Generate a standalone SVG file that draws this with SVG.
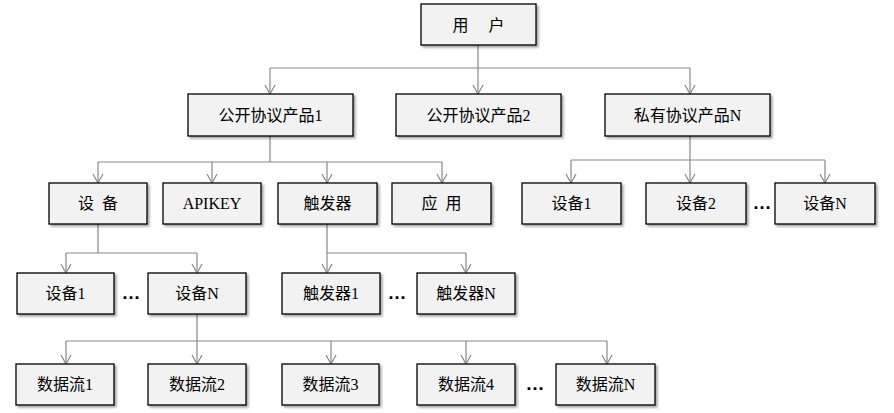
<svg xmlns="http://www.w3.org/2000/svg" width="894" height="413" viewBox="0 0 894 413">
<style>
.box{fill:#f2f2f2;stroke:#000;stroke-width:1.3;filter:url(#sh)}
.t{font-family:"Liberation Serif","Noto Sans CJK SC",serif;font-size:16px;fill:#000;text-anchor:middle;white-space:pre}
.c{fill:none;stroke:#888;stroke-width:1.2}
.a{marker-end:url(#arr)}
.d{font-family:"Liberation Sans",sans-serif;font-size:19px;font-weight:bold;fill:#000;text-anchor:middle}
</style>
<defs>
<filter id="sh" x="-10%" y="-20%" width="130%" height="160%">
<feDropShadow dx="2" dy="2" stdDeviation="1.2" flood-color="#000" flood-opacity="0.35"/>
</filter>
<marker id="arr" markerUnits="userSpaceOnUse" markerWidth="12" markerHeight="12" refX="0" refY="0" orient="auto" overflow="visible">
<path d="M-9,-5 L0,0 L-9,5" fill="none" stroke="#888" stroke-width="1.2"/>
</marker>
</defs>
<g id="connectors">
<path class="c" d="M478,45 V68 M270,68 H690"/>
<path class="c a" d="M270,68 V94"/>
<path class="c a" d="M478,68 V94"/>
<path class="c a" d="M690,68 V94"/>
<path class="c" d="M270,136 V162 M98,162 H442"/>
<path class="c a" d="M98,162 V183"/>
<path class="c a" d="M212,162 V183"/>
<path class="c a" d="M327,162 V183"/>
<path class="c a" d="M442,162 V183"/>
<path class="c" d="M690,136 V160 M571,160 H825"/>
<path class="c a" d="M571,160 V183"/>
<path class="c a" d="M690,160 V183"/>
<path class="c a" d="M825,160 V183"/>
<path class="c" d="M98,224 V253 M66,253 H197"/>
<path class="c a" d="M66,253 V273"/>
<path class="c a" d="M197,253 V273"/>
<path class="c" d="M327,224 V253 H466"/>
<path class="c a" d="M327,253 V273"/>
<path class="c a" d="M466,253 V273"/>
<path class="c" d="M197,314 V341 M66,341 H607"/>
<path class="c a" d="M66,341 V364"/>
<path class="c a" d="M197,341 V364"/>
<path class="c a" d="M331,341 V364"/>
<path class="c a" d="M466,341 V364"/>
<path class="c a" d="M607,341 V364"/>
</g>
<g id="user"><rect class="box" x="421" y="4" width="115" height="41"/><text class="t" x="478.5" y="30.5">用　 户</text></g>
<g id="p1"><rect class="box" x="188" y="94" width="165" height="42"/><text class="t" x="270.5" y="120.5">公开协议产品1</text></g>
<g id="p2"><rect class="box" x="396" y="94" width="165" height="42"/><text class="t" x="478.5" y="120.5">公开协议产品2</text></g>
<g id="pn"><rect class="box" x="605" y="94" width="165" height="42"/><text class="t" x="687.5" y="120.5">私有协议产品N</text></g>
<g id="dev"><rect class="box" x="49" y="183" width="98" height="41"/><text class="t" x="98" y="209">设  备</text></g>
<g id="apikey"><rect class="box" x="163" y="183" width="98" height="41"/><text class="t" x="212" y="209">APIKEY</text></g>
<g id="trig"><rect class="box" x="278" y="183" width="99" height="41"/><text class="t" x="327.5" y="209">触发器</text></g>
<g id="app"><rect class="box" x="392" y="183" width="99" height="41"/><text class="t" x="441.5" y="209">应  用</text></g>
<g id="pdev1"><rect class="box" x="522" y="183" width="99" height="41"/><text class="t" x="571.5" y="209">设备1</text></g>
<g id="pdev2"><rect class="box" x="646" y="183" width="100" height="41"/><text class="t" x="696" y="209">设备2</text></g>
<g id="pdevn"><rect class="box" x="775" y="183" width="100" height="41"/><text class="t" x="825" y="209">设备N</text></g>
<g id="dev1"><rect class="box" x="17" y="273" width="97" height="41"/><text class="t" x="65.5" y="299">设备1</text></g>
<g id="devn"><rect class="box" x="148" y="273" width="98" height="41"/><text class="t" x="197" y="299">设备N</text></g>
<g id="trig1"><rect class="box" x="282" y="273" width="98" height="41"/><text class="t" x="331" y="299">触发器1</text></g>
<g id="trign"><rect class="box" x="417" y="273" width="98" height="41"/><text class="t" x="466" y="299">触发器N</text></g>
<g id="ds1"><rect class="box" x="16" y="364" width="98" height="41"/><text class="t" x="65" y="390">数据流1</text></g>
<g id="ds2"><rect class="box" x="148" y="364" width="98" height="41"/><text class="t" x="197" y="390">数据流2</text></g>
<g id="ds3"><rect class="box" x="282" y="364" width="97" height="41"/><text class="t" x="330.5" y="390">数据流3</text></g>
<g id="ds4"><rect class="box" x="417" y="364" width="98" height="41"/><text class="t" x="466" y="390">数据流4</text></g>
<g id="dsn"><rect class="box" x="556" y="364" width="99" height="41"/><text class="t" x="605.5" y="390">数据流N</text></g>
<g id="dots">
<text class="d" x="131" y="299">…</text>
<text class="d" x="397" y="299">…</text>
<text class="d" x="762" y="209">…</text>
<text class="d" x="535" y="390">…</text>
</g>
</svg>
